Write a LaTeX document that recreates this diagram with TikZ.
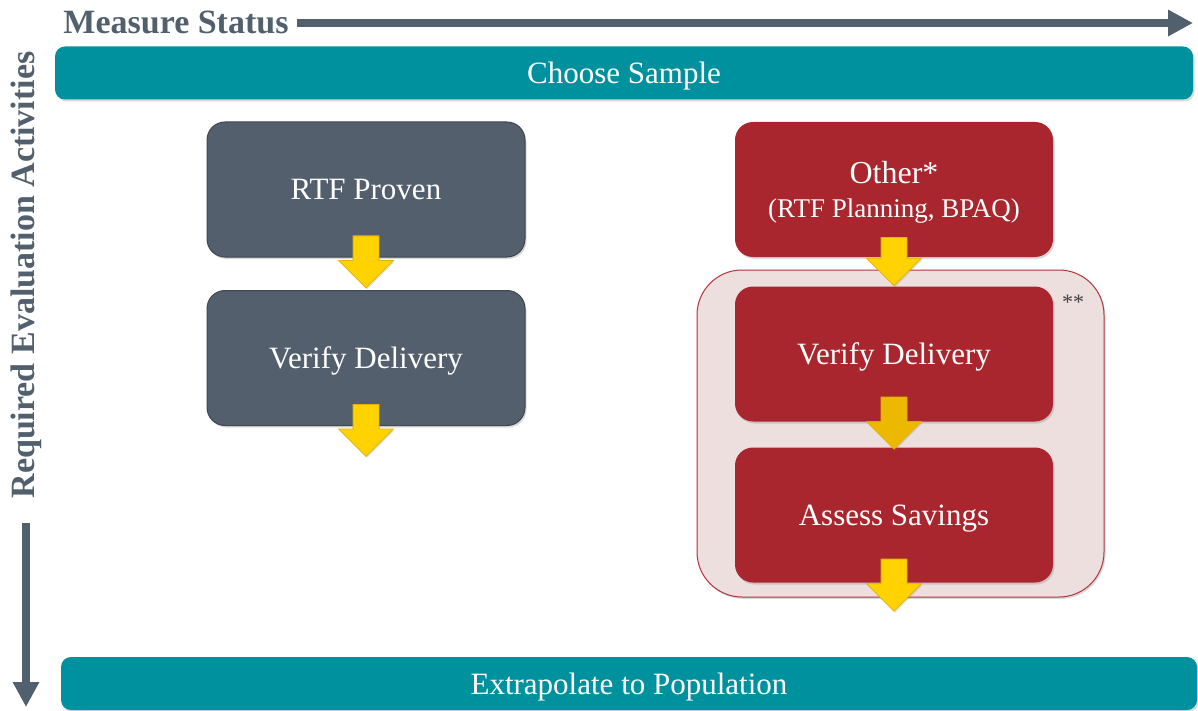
\documentclass[tikz,border=0pt]{standalone}
\usepackage{fontspec}
\setmainfont{Liberation Serif}
\usepackage{tikz}
\usetikzlibrary{
  positioning,
  arrows.meta,
  shapes.arrows,
  shadows
}
\definecolor{slate}{HTML}{525F6C}
\definecolor{barTeal}{HTML}{00919E}
\definecolor{boxGray}{HTML}{535F6C}
\definecolor{boxGrayDark}{HTML}{3F4751}
\definecolor{boxRed}{HTML}{A9262E}
\definecolor{groupFill}{HTML}{EEDFDF}
\definecolor{groupEdge}{HTML}{B0343B}
\definecolor{arrowYellow}{HTML}{FFD200}
\definecolor{arrowGold}{HTML}{ECB800}
\definecolor{arrowEdge}{HTML}{E2B400}

\tikzstyle{axis}=[line width=8pt, slate, -{Triangle[length=25pt, width=25pt]}]
\tikzstyle{heading}=[text=slate, font=\fontsize{34}{38}\selectfont\bfseries, inner sep=0pt]
\tikzstyle{shade}=[drop shadow={opacity=0.3, shadow xshift=1.5pt, shadow yshift=-2pt}]
\tikzstyle{bar}=[shade, rounded corners=10pt, fill=barTeal, text=white, minimum height=53pt, text depth=0pt, font=\fontsize{31}{36}\selectfont]
\tikzstyle{box}=[shade, rounded corners=18pt, minimum width=318pt, minimum height=135pt, text=white, align=center, text depth=0pt, font=\fontsize{31}{36}\selectfont]
\tikzstyle{graybox}=[box, fill=boxGray, draw=boxGrayDark, line width=1pt]
\tikzstyle{redbox}=[box, fill=boxRed]
\tikzstyle{yarrow}=[single arrow, shape border rotate=270, fill=arrowYellow, draw=arrowEdge, line width=0.8pt, minimum height=52pt, inner xsep=12.5pt, inner ysep=0pt, single arrow head extend=14.5pt, anchor=tail, drop shadow={opacity=0.25, shadow xshift=1pt, shadow yshift=-1.5pt}]

\begin{document}
\begin{tikzpicture}[x=1pt, y=-1pt]
  \useasboundingbox (0,0) rectangle (1198,711);

  % 軸
  \node[heading] (ms) at (176,22) {Measure Status};
  \coordinate (msEnd) at (1193,23);
  \draw[axis, shorten <=8pt] (ms.east |- msEnd) -- (msEnd);

  \node[heading, rotate=90] (rea) at (26,275) {Required Evaluation Activities};
  \coordinate (reaEnd) at (26,707);
  \draw[axis, shorten <=24pt] (rea.west) -- (reaEnd);

  % 上下のバー
  \node[bar, minimum width=1138pt] (sample) at (624,73) {Choose Sample};
  \node[bar, minimum width=1136pt] (extra) at (629,683.5) {Extrapolate to Population};

  % 右側のグループ
  \node[draw=groupEdge, line width=1pt, fill=groupFill, rounded corners=45pt,
        minimum width=407pt, minimum height=327pt, shade] (grp) at (900.5,433.5) {};
  \node[text=darkgray, font=\fontsize{22}{24}\selectfont] (stars) at (1073,302) {**};

  % 左の列
  \node[graybox] (proven) at (366,189.5) {RTF Proven};
  \node[graybox] (verifyL) at (366,358) {Verify Delivery};

  % 右の列
  \node[redbox] (other) at (894,189.5) {{\fontsize{32}{36}\selectfont Other*}\\[-2pt]{\fontsize{27}{30}\selectfont (RTF Planning, BPAQ)}};
  \node[redbox] (verifyR) at (894,354) {Verify Delivery};
  \node[redbox] (assess) at (894,515) {Assess Savings};

  % 黄色の矢印
  \node[yarrow] (a1) at ([yshift=22pt]proven.south) {};
  \node[yarrow] (a2) at ([yshift=22pt]verifyL.south) {};
  \node[yarrow, minimum height=48pt] (a3) at ([yshift=20pt]other.south) {};
  \node[yarrow, fill=arrowGold] (a4) at ([yshift=25pt]verifyR.south) {};
  \node[yarrow] (a5) at ([yshift=24pt]assess.south) {};
\end{tikzpicture}
\end{document}
